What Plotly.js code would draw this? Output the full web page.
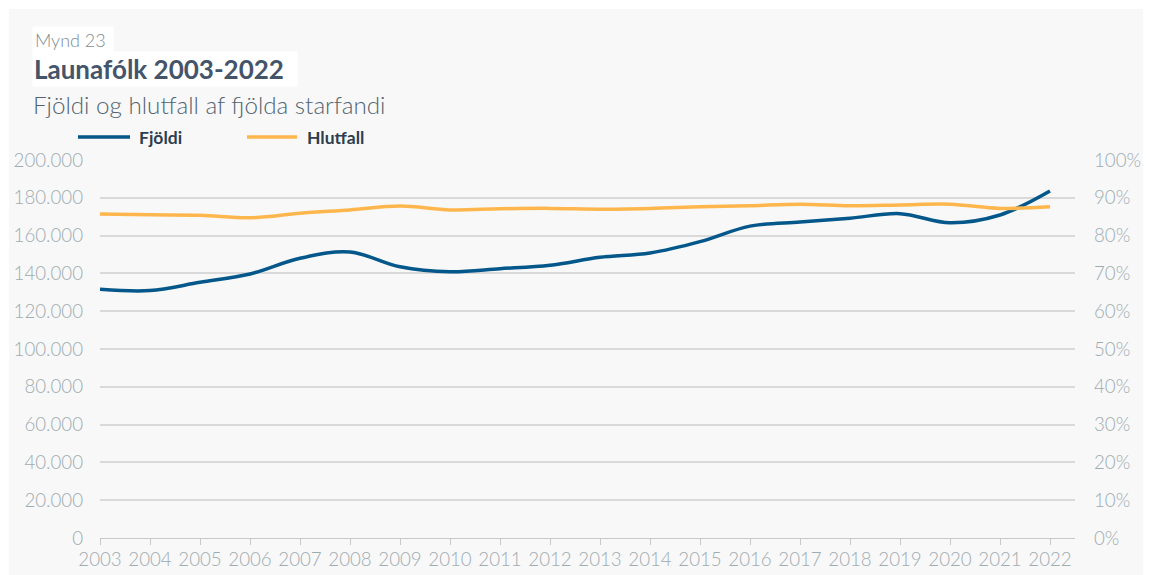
<!DOCTYPE html>
<html>
<head>
<meta charset="utf-8">
<script src="https://cdn.plot.ly/plotly-3.0.1.min.js"></script>
<style>
  html, body { margin: 0; padding: 0; background: #ffffff; }
  #chart { position: absolute; left: 9px; top: 9px; width: 1134px; height: 566px; }
</style>
</head>
<body>
<div id="chart"></div>
<script>
const years = [2003, 2004, 2005, 2006, 2007, 2008, 2009, 2010, 2011, 2012,
               2013, 2014, 2015, 2016, 2017, 2018, 2019, 2020, 2021, 2022];
const fjoldi = [131600, 130900, 135300, 139700, 148000, 151300, 143500, 140900, 142500, 144300,
                148500, 150800, 156800, 165000, 167200, 169200, 171600, 166800, 170900, 183600];
const hlutfall = [85.7, 85.5, 85.4, 84.7, 85.9, 86.8, 87.8, 86.8, 87.1, 87.2,
                  87.0, 87.2, 87.6, 87.9, 88.3, 87.9, 88.1, 88.3, 87.2, 87.6];
const leftTicks = [0, 20000, 40000, 60000, 80000, 100000, 120000, 140000, 160000, 180000, 200000];
const rightTicks = [0, 10, 20, 30, 40, 50, 60, 70, 80, 90, 100];
const rightTickText = ['0%', '10%', '20%', '30%', '40%', '50%', '60%', '70%', '80%', '90%', '100%'];
const seriesNames = ['Fjöldi', 'Hlutfall'];
const seriesColors = ['#03578a', '#ffb74d'];
const titleSmall = 'Mynd 23';
const titleMain = 'Launafólk 2003-2022';
const titleSub = 'Fjöldi og hlutfall af fjölda starfandi';

const lightFam = '"Lato Light", Lato, sans-serif';
const tickFont = {family: lightFam, size: 18.7, color: '#9eacb1', weight: 300};

const traces = [
  {x: years, y: fjoldi, name: seriesNames[0], type: 'scatter', mode: 'lines',
   line: {color: seriesColors[0], width: 3.5, shape: 'spline', smoothing: 1}, yaxis: 'y'},
  {x: years, y: hlutfall, name: seriesNames[1], type: 'scatter', mode: 'lines',
   line: {color: seriesColors[1], width: 3.5, shape: 'spline', smoothing: 1}, yaxis: 'y2'}
];

// Manual legend (line keys + labels) placed above the plot area
const legendY = 1.0608;
const legendKeys = [[-0.0226, 0.0308, 0.0380], [0.1508, 0.2021, 0.2103]];
const shapes = legendKeys.map((k, i) => ({
  type: 'line', xref: 'paper', yref: 'paper', x0: k[0], x1: k[1], y0: legendY, y1: legendY,
  line: {color: seriesColors[i], width: 3.5}
}));
const legendLabels = legendKeys.map((k, i) => ({
  text: seriesNames[i], xref: 'paper', yref: 'paper', x: k[2], y: legendY,
  xanchor: 'left', yanchor: 'middle', showarrow: false,
  font: {family: 'Lato, sans-serif', size: 17.5, color: '#2c3e50', weight: 700}
}));

const layout = {
  width: 1134, height: 566,
  paper_bgcolor: '#f8f8f8', plot_bgcolor: '#f8f8f8',
  margin: {l: 91, r: 68, t: 151, b: 37},
  separators: ',.',
  font: {family: 'Lato, sans-serif'},
  showlegend: false,
  shapes: shapes,
  xaxis: {range: [2003, 2022.5], tickvals: years, ticktext: years.map(String),
          showgrid: false, zeroline: false, showline: true, linecolor: '#c8c8c8', linewidth: 1,
          ticks: 'outside', ticklen: 6, tickcolor: '#c8c8c8', tickfont: tickFont, ticklabelstandoff: -1},
  yaxis: {range: [0, 200000], tickvals: leftTicks, tickformat: ',d',
          showgrid: true, gridcolor: '#d9d9d9', gridwidth: 1.5, zeroline: false,
          tickfont: tickFont, ticklabelstandoff: 16},
  yaxis2: {range: [0, 100], tickvals: rightTicks, ticktext: rightTickText, overlaying: 'y', side: 'right',
           showgrid: false, zeroline: false, tickfont: tickFont, ticklabelstandoff: 18},
  annotations: [
    {text: titleSmall, xref: 'paper', yref: 'paper', x: -0.0697, y: 1.3175, xanchor: 'left', yanchor: 'middle',
     showarrow: false, align: 'left', bgcolor: '#ffffff', width: 76, borderpad: 2,
     font: {family: lightFam, size: 18, color: '#7f8b94', weight: 300}},
    {text: titleMain, xref: 'paper', yref: 'paper', x: -0.0697, y: 1.240, xanchor: 'left', yanchor: 'middle',
     showarrow: false, align: 'left', bgcolor: '#ffffff', width: 262, borderpad: 1,
     font: {family: 'Lato, sans-serif', size: 26, color: '#44546a', weight: 700}},
    {text: titleSub, xref: 'paper', yref: 'paper', x: -0.0707, y: 1.148, xanchor: 'left', yanchor: 'middle',
     showarrow: false, align: 'left',
     font: {family: lightFam, size: 24.2, color: '#51636f', weight: 300}}
  ].concat(legendLabels)
};

Plotly.newPlot('chart', traces, layout, {displayModeBar: false, responsive: false});
</script>
</body>
</html>
